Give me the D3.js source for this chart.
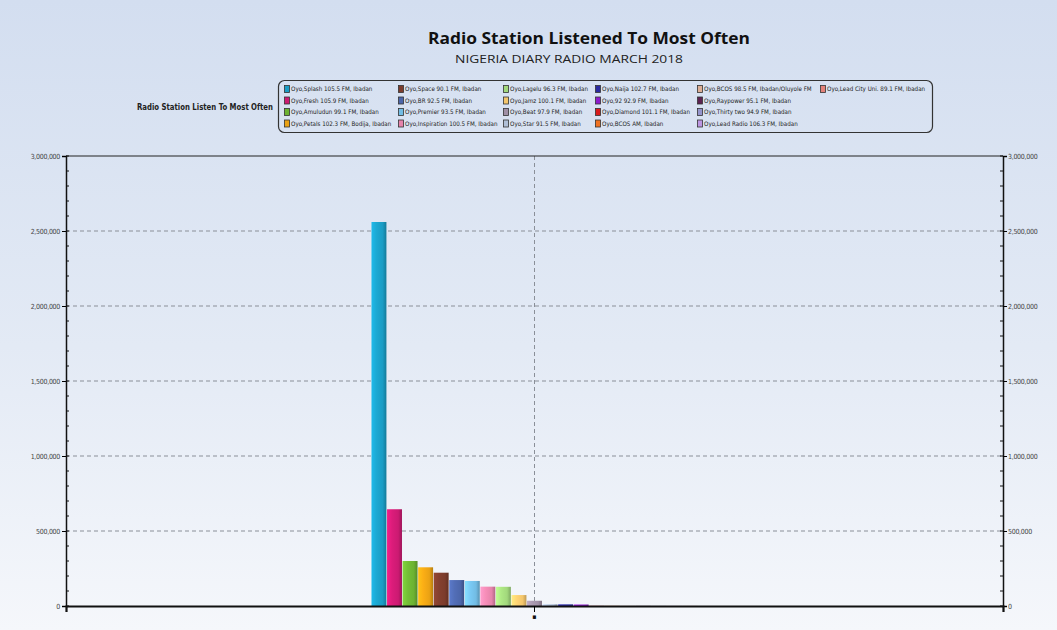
<!DOCTYPE html>
<html>
<head>
<meta charset="utf-8">
<script src="https://cdn.jsdelivr.net/npm/d3@7"></script>
<style>
  html, body { margin: 0; padding: 0; background: #fff; }
  svg { display: block; }
</style>
</head>
<body>
<svg id="chart" width="1057" height="630"></svg>
<script>
// ---------- DATA ----------
const categories = ["\u25AA"];
const stations = [
  "Oyo,Splash 105.5 FM, Ibadan",
  "Oyo,Fresh 105.9 FM, Ibadan",
  "Oyo,Amuludun 99.1 FM, Ibadan",
  "Oyo,Petals 102.3 FM, Bodija, Ibadan",
  "Oyo,Space 90.1 FM, Ibadan",
  "Oyo,BR 92.5 FM, Ibadan",
  "Oyo,Premier 93.5 FM, Ibadan",
  "Oyo,Inspiration 100.5 FM, Ibadan",
  "Oyo,Lagelu 96.3 FM, Ibadan",
  "Oyo,Jamz 100.1 FM, Ibadan",
  "Oyo,Beat 97.9 FM, Ibadan",
  "Oyo,Star 91.5 FM, Ibadan",
  "Oyo,Naija 102.7 FM, Ibadan",
  "Oyo,92 92.9 FM, Ibadan",
  "Oyo,Diamond 101.1 FM, Ibadan",
  "Oyo,BCOS AM, Ibadan",
  "Oyo,BCOS 98.5 FM, Ibadan/Oluyole FM",
  "Oyo,Raypower 95.1 FM, Ibadan",
  "Oyo,Thirty two 94.9 FM, Ibadan",
  "Oyo,Lead Radio 106.3 FM, Ibadan",
  "Oyo,Lead City Uni. 89.1 FM, Ibadan"
];
const listeners = [
  2560000, 645000, 300000, 258000, 222000, 173000, 167000, 129000, 128000,
  73000, 35000, 12000, 11000, 10000, 900, 800, 700, 600, 500, 400, 300
];
const stationColors = [
  "#1a9cc4", "#cc1a72", "#6cb232", "#eaa214", "#7c3c2c", "#4c66aa",
  "#72bce4", "#e684ac", "#a2d87c", "#f4c66c", "#a090a6", "#b0c0d8",
  "#2a2aa0", "#8c1ccc", "#d81c1c", "#f07222", "#dcae96", "#5c2252",
  "#9494cc", "#bc96e2", "#e4827a"
];
const yTicks = [0, 500000, 1000000, 1500000, 2000000, 2500000, 3000000];
const titleText = "Radio Station Listened To Most Often";
const subtitleText = "NIGERIA DIARY RADIO MARCH 2018";
const legendTitle = "Radio Station Listen To Most Often";

// ---------- LAYOUT ----------
const W = 1057, H = 630;
const plot = { left: 66, right: 1003, top: 156, bottom: 606 };
const svg = d3.select("#chart");
const defs = svg.append("defs");

const bg = defs.append("linearGradient").attr("id", "bg")
  .attr("x1", 0).attr("y1", 0).attr("x2", 0).attr("y2", 1);
bg.append("stop").attr("offset", "0%").attr("stop-color", "#d3def0");
bg.append("stop").attr("offset", "55%").attr("stop-color", "#e3eaf5");
bg.append("stop").attr("offset", "100%").attr("stop-color", "#f5f7fb");
svg.append("rect").attr("width", W).attr("height", H).attr("fill", "url(#bg)");

// titles
svg.append("text").attr("x", 589).attr("y", 44)
  .attr("text-anchor", "middle")
  .attr("font-family", "'Open Sans', sans-serif").attr("font-weight", "bold")
  .attr("font-size", 16.5).attr("fill", "#111")
  .attr("textLength", 322).attr("lengthAdjust", "spacingAndGlyphs")
  .text(titleText);
svg.append("text").attr("x", 569).attr("y", 63)
  .attr("text-anchor", "middle")
  .attr("font-family", "'Open Sans', sans-serif")
  .attr("font-size", 11.5).attr("fill", "#222")
  .attr("textLength", 228).attr("lengthAdjust", "spacingAndGlyphs")
  .text(subtitleText);

// ---------- SCALES ----------
const y = d3.scaleLinear().domain([0, 3000000]).range([plot.bottom, plot.top]);
const xCat = d3.scaleBand().domain(categories).range([plot.left, plot.right])
  .paddingInner(0).paddingOuter(0.937);
const xSer = d3.scaleBand().domain(stations).range([0, xCat.bandwidth()]).paddingInner(0.04);

// gridlines
const grid = svg.append("g");
grid.selectAll("line.h").data(yTicks.filter(d => d > 0 && d < 3000000)).join("line")
  .attr("x1", plot.left).attr("x2", plot.right)
  .attr("y1", d => y(d)).attr("y2", d => y(d))
  .attr("stroke", "#8a8f98").attr("stroke-width", 1).attr("stroke-dasharray", "4,3");
grid.selectAll("line.v").data(categories).join("line")
  .attr("x1", d => xCat(d) + xCat.bandwidth() / 2).attr("x2", d => xCat(d) + xCat.bandwidth() / 2)
  .attr("y1", plot.top).attr("y2", plot.bottom)
  .attr("stroke", "#8a8f98").attr("stroke-width", 1).attr("stroke-dasharray", "4,3");

// bar gradients
stations.forEach((s, i) => {
  const c = d3.color(stationColors[i]);
  const g = defs.append("linearGradient").attr("id", "bar" + i)
    .attr("x1", 0).attr("y1", 0).attr("x2", 1).attr("y2", 0);
  g.append("stop").attr("offset", "0%").attr("stop-color", c.brighter(0.5));
  g.append("stop").attr("offset", "35%").attr("stop-color", c.brighter(0.2));
  g.append("stop").attr("offset", "75%").attr("stop-color", c);
  g.append("stop").attr("offset", "100%").attr("stop-color", c.darker(0.7));
});

// bars
const barsG = svg.append("g");
categories.forEach(cat => {
  barsG.selectAll("rect.bar").data(stations).join("rect")
    .attr("class", "bar")
    .attr("x", d => xCat(cat) + xSer(d))
    .attr("width", xSer.bandwidth())
    .attr("y", (d, i) => y(listeners[i]))
    .attr("height", (d, i) => plot.bottom - y(listeners[i]))
    .attr("fill", (d, i) => `url(#bar${i})`);
});

// frame top line
svg.append("line").attr("x1", plot.left).attr("x2", plot.right)
  .attr("y1", plot.top).attr("y2", plot.top).attr("stroke", "#222").attr("stroke-width", 1);

// axes
const fmt = d3.format(",");
const axisFont = "'Liberation Sans Narrow', 'DejaVu Sans Condensed', sans-serif";
const minorTicks = d3.range(0, 3000001, 100000);

const leftAxis = svg.append("g").attr("transform", `translate(${plot.left},0)`)
  .call(d3.axisLeft(y).tickValues(yTicks).tickFormat(fmt).tickSize(4).tickPadding(2));
leftAxis.select(".domain").attr("stroke", "#111").attr("stroke-width", 1.5);
leftAxis.selectAll("text").attr("font-family", axisFont).attr("font-size", 7)
  .attr("letter-spacing", -0.3).attr("fill", "#444");
leftAxis.selectAll(".minor").data(minorTicks).join("line").attr("class", "minor")
  .attr("x1", 0).attr("x2", 3).attr("y1", d => y(d)).attr("y2", d => y(d)).attr("stroke", "#111");

const rightAxis = svg.append("g").attr("transform", `translate(${plot.right},0)`)
  .call(d3.axisRight(y).tickValues(yTicks).tickFormat(fmt).tickSize(4).tickPadding(1));
rightAxis.select(".domain").attr("stroke", "#111").attr("stroke-width", 1.5);
rightAxis.selectAll("text").attr("font-family", axisFont).attr("font-size", 7)
  .attr("letter-spacing", -0.3).attr("fill", "#444");
rightAxis.selectAll(".minor").data(minorTicks).join("line").attr("class", "minor")
  .attr("x1", 0).attr("x2", -3).attr("y1", d => y(d)).attr("y2", d => y(d)).attr("stroke", "#111");

const xAxis = svg.append("g").attr("transform", `translate(0,${plot.bottom})`)
  .call(d3.axisBottom(xCat).tickSize(6).tickPadding(2));
xAxis.select(".domain").attr("stroke", "#111").attr("stroke-width", 2.2);
xAxis.selectAll("text").attr("font-family", axisFont).attr("font-size", 7).attr("fill", "#111");

// ---------- LEGEND ----------
const lg = svg.append("g");
lg.append("rect").attr("x", 278.5).attr("y", 80.5).attr("width", 654).attr("height", 52)
  .attr("rx", 6).attr("ry", 6).attr("fill", "none").attr("stroke", "#333").attr("stroke-width", 1.2);
lg.append("text").attr("x", 273).attr("y", 110).attr("text-anchor", "end")
  .attr("font-family", axisFont).attr("font-weight", "bold").attr("font-size", 8).attr("fill", "#222")
  .attr("textLength", 136).attr("lengthAdjust", "spacingAndGlyphs")
  .text(legendTitle);

const colX = [284, 398, 503, 595, 697, 820];
const rowY = [89, 100.5, 112, 123.5];
const legendFont = "'Liberation Sans Narrow', 'DejaVu Sans Condensed', sans-serif";
stations.forEach((s, i) => {
  const col = Math.floor(i / 4), row = i % 4;
  const gx = colX[col], gy = rowY[row];
  const item = lg.append("g").attr("transform", `translate(${gx},${gy})`);
  item.append("rect").attr("x", 0.5).attr("y", -3.5).attr("width", 5).attr("height", 7)
    .attr("fill", stationColors[i]).attr("stroke", "#333").attr("stroke-width", 0.8);
  item.append("text").attr("x", 7).attr("y", 2.3)
    .attr("font-family", legendFont).attr("font-size", 6.2).attr("fill", "#222")
    .text(s);
});
</script>
</body>
</html>
